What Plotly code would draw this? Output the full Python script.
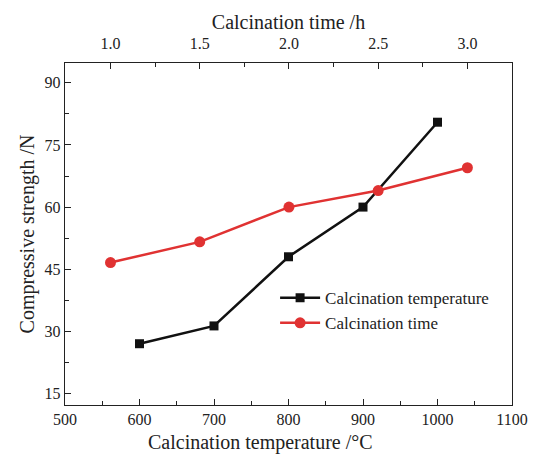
import plotly.graph_objects as go

temp = [600, 700, 800, 900, 1000]
strength_temp = [27.0, 31.3, 48.0, 60.0, 80.5]
time_h = [1.0, 1.5, 2.0, 2.5, 3.0]
strength_time = [46.6, 51.6, 60.0, 64.0, 69.5]

FONT = "Liberation Serif, Times New Roman, serif"
fig = go.Figure()
fig.add_trace(go.Scatter(x=temp, y=strength_temp, mode="lines+markers",
                         name="Calcination temperature",
                         line=dict(color="#111111", width=2.5),
                         marker=dict(symbol="square", size=9, color="#111111")))
fig.add_trace(go.Scatter(x=time_h, y=strength_time, mode="lines+markers",
                         name="Calcination time", xaxis="x2",
                         line=dict(color="#e03232", width=2.5),
                         marker=dict(symbol="circle", size=11, color="#e03232")))

axcommon = dict(showgrid=False, zeroline=False, ticks="inside", ticklen=6,
                tickwidth=1.2, tickcolor="#222", linecolor="#222", linewidth=1.4,
                tickfont=dict(family=FONT, size=16, color="#222"))

fig.update_layout(
    width=540, height=454,
    margin=dict(l=65, r=18, t=63, b=49),
    paper_bgcolor="white", plot_bgcolor="white",
    font=dict(family=FONT, color="#222"),
    showlegend=True,
    legend=dict(x=0.47, y=0.365, xanchor="left", yanchor="top",
                bgcolor="rgba(0,0,0,0)", font=dict(family=FONT, size=17, color="#222"),
                tracegroupgap=0, itemwidth=40),
    xaxis=dict(range=[500, 1100], tickvals=[500, 600, 700, 800, 900, 1000, 1100],
               showline=True, mirror=True,
               minor=dict(ticks="inside", ticklen=4, tickwidth=1.2, tickcolor="#222", dtick=50),
               **axcommon),
    xaxis2=dict(range=[0.745, 3.25], tickvals=[1.0, 1.5, 2.0, 2.5, 3.0], ticktext=["1.0", "1.5", "2.0", "2.5", "3.0"],
                overlaying="x", side="top", showline=True, anchor="y", ticklabelstandoff=6,
                minor=dict(ticks="inside", ticklen=4, tickwidth=1.2, tickcolor="#222", dtick=0.25),
                title=dict(text="Calcination time /h", font=dict(family=FONT, size=20), standoff=0),
                **axcommon),
    yaxis=dict(range=[12.2, 94.8], tickvals=[15, 30, 45, 60, 75, 90],
               showline=True, mirror=True,
               minor=dict(ticks="inside", ticklen=4, tickwidth=1.2, tickcolor="#222", dtick=7.5),
               title=dict(text="Compressive strength /N", font=dict(family=FONT, size=20), standoff=4),
               **axcommon),
    annotations=[dict(text="Calcination temperature /°C", xref="paper", yref="paper",
                      x=(265 - 65) / (540 - 65 - 18), y=0, yshift=-37, xanchor="center", yanchor="middle",
                      showarrow=False, font=dict(family=FONT, size=20, color="#222"))],
)

fig.write_html("out.html")
